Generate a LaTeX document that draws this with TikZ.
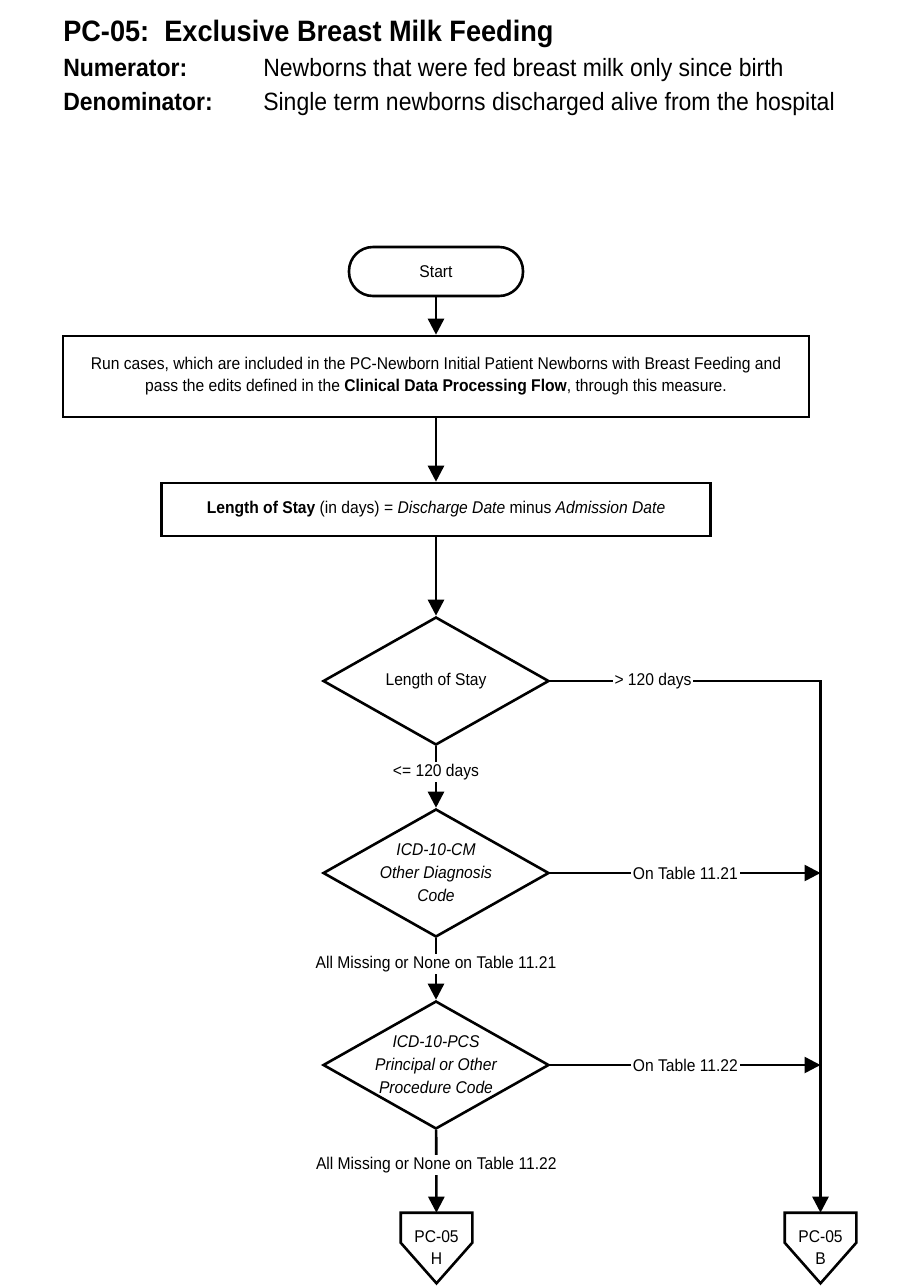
\documentclass[tikz,border=0pt]{standalone}
\usepackage{fontspec}
\setmainfont{Liberation Sans}[FakeStretch=0.92]
\usetikzlibrary{shapes.geometric, arrows.meta, positioning}

\tikzset{
    startstop/.style = {draw, rounded corners = 24pt, minimum width = 174pt, minimum height = 49pt, inner sep = 0pt},
    process/.style = {draw, align = center, inner sep = 0pt},
    decision/.style = {draw, diamond, minimum width = 226pt, minimum height = 128pt, inner sep = 0pt},
    dtext/.style = {align = center, inner sep = 0pt, font = \itshape\fontsize{17}{23}\selectfont},
    lbl/.style = {fill = white, inner sep = 2pt},
    offpage/.style = {minimum width = 69pt, minimum height = 68pt, inner sep = 0pt, align = center},
    head/.style = {anchor = base west, inner sep = 0pt, font = \fontsize{25}{30}\selectfont}
}

\begin{document}
\begin{tikzpicture}[
        x = 1pt, y = -1pt,
        > = {Triangle[length = 16pt, width = 16pt]},
        line width = 2.6pt,
        font = \fontsize{17}{22}\selectfont
    ]
    \useasboundingbox (0,0) rectangle (900,1286);

    % header
    \node[head, font = \bfseries\fontsize{29.5}{34}\selectfont] (title) at (62,41) {PC-05:\ \ Exclusive Breast Milk Feeding};
    \node[head, font = \bfseries\fontsize{25}{30}\selectfont] (numlbl) at (62,76) {Numerator:};
    \node[head] (numtxt) at (262,76) {Newborns that were fed breast milk only since birth};
    \node[head, font = \bfseries\fontsize{25}{30}\selectfont] (denlbl) at (62,110) {Denominator:};
    \node[head] (dentxt) at (262,110) {Single term newborns discharged alive from the hospital};

    % main column
    \node[startstop] (start) at (436,271.5) {Start};
    \node[process, minimum width = 746pt, minimum height = 81pt] (run) at (436,376.5)
        {Run cases, which are included in the PC-Newborn Initial Patient Newborns with Breast Feeding and\\
         pass the edits defined in the \textbf{Clinical Data Processing Flow}, through this measure.};
    \node[process, minimum width = 549pt, minimum height = 53pt] (los) at (436,509.5)
        {\textbf{Length of Stay} (in days) = \textit{Discharge Date} minus \textit{Admission Date}};

    \node[decision] (dlos) at (436,681) {};
    \node[dtext, font = \fontsize{17}{23}\selectfont] (dlostext) at (dlos) {Length of Stay};
    \node[decision] (ddiag) at (436,873) {};
    \node[dtext] (ddiagtext) at (ddiag) {ICD-10-CM\\Other Diagnosis\\Code};
    \node[decision] (dproc) at (436,1065) {};
    \node[dtext] (dproctext) at (dproc) {ICD-10-PCS\\Principal or Other\\Procedure Code};

    \node[offpage] (offH) at (436.5,1248) {PC-05\\H};
    \node[offpage] (offB) at (820.5,1248) {PC-05\\B};
    \foreach \o in {offH, offB}
        \draw (\o.north west) -- (\o.north east) -- ([yshift = -30pt]\o.north east)
            -- (\o.south) -- ([yshift = -30pt]\o.north west) -- cycle;

    % connectors
    \draw[->] (start) -- (run);
    \draw[->] (run) -- (los);
    \draw[->] (los) -- (dlos);
    \draw[->] (dlos) -- node[lbl, pos = 0.42] {<= 120 days} (ddiag);
    \draw[->] (ddiag) -- node[lbl, pos = 0.42] {All Missing or None on Table 11.21} (dproc);
    \draw[->] (dproc) -- node[lbl, pos = 0.42] {All Missing or None on Table 11.22} (offH);
    \draw[->] (dlos.east) -- node[lbl, pos = 0.38] {> 120 days} (dlos.east -| offB.north) -- (offB.north);
    \draw[->] (ddiag.east) -- node[lbl] {On Table 11.21} (ddiag.east -| offB.north);
    \draw[->] (dproc.east) -- node[lbl] {On Table 11.22} (dproc.east -| offB.north);
\end{tikzpicture}
\end{document}
